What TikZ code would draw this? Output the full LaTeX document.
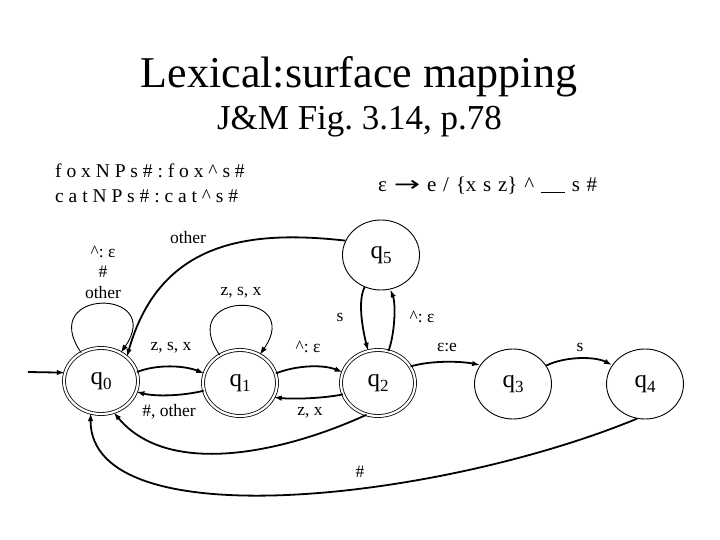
\documentclass[tikz,border=0pt]{standalone}
\usepackage{fontspec}
\setmainfont{Liberation Serif}
\newfontfamily\djv{DejaVu Sans}
\usetikzlibrary{arrows.meta,shapes.geometric}
\frenchspacing
\newcommand{\stq}[1]{q\raisebox{-0.22em}{\fontsize{17}{17}\selectfont #1}}
\begin{document}
\begin{tikzpicture}[x=1pt,y=-1pt,
  acc/.style={ellipse,draw,line width=0.8pt,double,double distance=2.2pt,minimum width=74pt,minimum height=66pt,inner sep=0pt,font=\fontsize{25}{25}\selectfont},
  plain/.style={ellipse,draw,line width=0.9pt,minimum width=77pt,minimum height=70pt,inner sep=0pt,font=\fontsize{25}{25}\selectfont},
  tr/.style={line width=1.8pt,-{Latex[length=8pt,width=5.5pt]}},
  lp/.style={line width=0.9pt,-{Latex[length=8pt,width=5.5pt]}},
  lbl/.style={font=\fontsize{17.5}{18}\selectfont,inner sep=0pt}
]
\fill[white] (0,0) rectangle (720,540);
\useasboundingbox (0,0) rectangle (720,540);

% titles
\node[anchor=base,inner sep=0pt,font=\fontsize{44}{50}\selectfont] (title) at (359,88) {Lexical:surface mapping};
\node[anchor=base,inner sep=0pt,font=\fontsize{35}{40}\selectfont] (sub) at (359.5,130) {J\&M Fig. 3.14, p.78};
\node[anchor=base west,inner sep=0pt,font=\fontsize{19.5}{22}\selectfont] (ex1) at (55,178) {f o x N P s \# : f o x \textasciicircum\ s \#};
\node[anchor=base west,inner sep=0pt,font=\fontsize{19.5}{22}\selectfont] (ex2) at (55,203) {c a t N P s \# : c a t \textasciicircum\ s \#};
\node[anchor=base west,inner sep=0pt,font=\fontsize{21}{22}\selectfont] (rule) at (378,192) {\spaceskip=6.8pt ε {\djv\scalebox{1.5}[1]{→}} e / \{x s z\} \textasciicircum\ \rule[-1pt]{24pt}{1pt} s \#};

% states
\node[acc] (q0) at (101,381) {\stq{0}};
\node[acc] (q1) at (240,383) {\stq{1}};
\node[acc] (q2) at (378,383) {\stq{2}};
\node[plain] (q3) at (513,384) {\stq{3}};
\node[plain] (q4) at (645,384) {\stq{4}};
\node[plain] (q5) at (381,255) {\stq{5}};

% initial arrow
\coordinate (init) at (28,372);
\draw[tr] (init) -- (q0.167);

% self loops
\draw[lp] (q0.125) .. controls +(-45,-65) and +(45,-65) .. (q0.55);
\draw[lp] (q1.126) .. controls +(-45,-65) and +(45,-65) .. (q1.55);

% transitions
\draw[tr] (q0.14) .. controls +(20,-8) and +(-20,-8) .. (q1.165);
\draw[tr] (q1.192) .. controls +(-20,5) and +(20,5) .. (q0.-17);
\draw[tr] (q1.15) .. controls +(20,-8) and +(-20,-8) .. (q2.163);
\draw[tr] (q2.198) .. controls +(-20,4) and +(20,2) .. (q1.-23);
\draw[tr] (q5.243) .. controls +(-8,15) and +(-4,-15) .. (q2.107);
\draw[tr] (q2.72) .. controls +(6,-15) and +(6,15) .. (q5.285);
\draw[tr] (q2.27) .. controls +(20,-6) and +(-20,-4) .. (q3.150);
\draw[tr] (q3.29) .. controls +(18,-9) and +(-18,-9) .. (q4.150);
\draw[tr] (q5.158) .. controls (250,230) and (160,240) .. (q0.43);
\draw[tr] (q2.250) .. controls (290,450) and (170,480) .. (q0.292);
\draw[tr] (q4.257) .. controls (440,500) and (90,540) .. (q0.252);

% labels
\node[lbl] (lo) at (188,238) {other};
\node[lbl] (l0a) at (103,252) {\textasciicircum: ε};
\node[lbl] (l0b) at (103,272) {\#};
\node[lbl] (l0c) at (103,293) {other};
\node[lbl] (l01) at (171,348) {z, s, x};
\node[lbl] (l10) at (169,412) {\#, other};
\node[lbl] (l11) at (241,293) {z, s, x};
\node[lbl] (l12) at (308,347) {\textasciicircum: ε};
\node[lbl] (l21) at (310,413) {z, x};
\node[lbl] (l52) at (340,317) {s};
\node[lbl] (l25) at (422,317) {\textasciicircum: ε};
\node[lbl] (l23) at (447,347) {ε:e};
\node[lbl] (l34) at (580,347) {s};
\node[lbl] (l40) at (360,472) {\#};
\end{tikzpicture}
\end{document}
